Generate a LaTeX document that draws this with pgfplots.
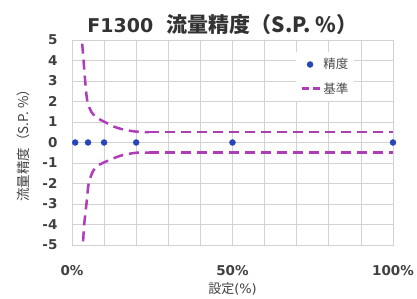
\documentclass[border=0pt]{standalone}
\usepackage{pgfplots}
\pgfplotsset{compat=1.18}
\usepackage{fontspec}
\setmainfont{DejaVu Sans}
\newfontfamily\cjk{Noto Sans CJK JP}
\definecolor{mkblue}{RGB}{40,70,185}
\definecolor{dpurple}{RGB}{175,60,185}
\definecolor{gridc}{RGB}{210,210,210}
\begin{document}
\begin{tikzpicture}[x=1pt,y=1pt]
\path[use as bounding box] (-72,-54) rectangle (345,245);
\begin{axis}[
  at={(0,0)}, anchor=south west,
  scale only axis, width=321pt, height=205pt,
  xmin=0, xmax=100, ymin=-5, ymax=5,
  xtick={0,10,...,100},
  xticklabels={0\%,,,,,50\%,,,,,100\%},
  ytick={-5,-4,...,5},
  grid=major,
  major grid style={gridc, line width=0.8pt},
  axis line style={gridc, line width=0.8pt},
  major tick length=0pt,
  /pgf/number format/assume math mode=true,
  ticklabel style={font=\fontsize{13.5}{14}\selectfont\bfseries, text=black!75},
  xticklabel style={yshift=-17pt},
  yticklabel style={xshift=-11pt},
  xlabel={{\cjk 設定}(\%)},
  xlabel style={font=\fontsize{13}{14}\selectfont, text=black!75, yshift=0pt},
  ylabel={\cjk 流量精度（S.P. \%）},
  ylabel style={font=\fontsize{13.5}{14}\selectfont, text=black!75, yshift=6pt},
  title={\bfseries F1300\hspace{0.7em}{\cjk\bfseries\fontsize{21}{22}\selectfont 流量精度（S.P. \%）}},
  title style={font=\fontsize{19}{21}\selectfont, text=black!80, yshift=-4pt, xshift=-10pt},
  legend style={at={(0.88,0.94)}, anchor=north east, draw=none, fill=white,
    font=\cjk\fontsize{12.5}{13}\selectfont, text=black!70, row sep=8pt,
    inner sep=4pt},
  legend cell align=left,
  clip=true,
]
\addplot[only marks, mark=*, mark size=3pt, color=mkblue] coordinates {
  (1,0) (5,0) (10,0) (20,0) (50,0) (100,0)
};
\addlegendentry{精度}
\addplot[smooth, tension=0.5, color=dpurple, line width=2.5pt, dash pattern=on 10pt off 6pt,
  legend image code/.code={\draw[line width=2.5pt, dash pattern=on 7pt off 4pt] (0cm,0cm) -- (0.65cm,0cm);}] coordinates {
  (2.95,5.6) (3.1,5) (3.6,4) (4.1,3) (4.8,2) (6.2,1.45) (8,1.18) (10,1.02) (13,0.78) (16,0.63) (20,0.53) (24,0.5)
};
\addlegendentry{基準}
\addplot[color=dpurple, line width=2.5pt, dash pattern=on 10pt off 6pt, forget plot] coordinates {
  (24,0.5) (50,0.5) (100,0.5)
};
\addplot[smooth, tension=0.5, color=dpurple, line width=2.5pt, dash pattern=on 10pt off 6pt, forget plot] coordinates {
  (3.25,-5.6) (3.4,-5) (3.8,-4) (4.5,-3) (5.2,-2) (6.6,-1.38) (8.2,-1.12) (10,-0.97) (15,-0.65) (20,-0.5) (24,-0.5)
};
\addplot[color=dpurple, line width=2.5pt, dash pattern=on 10pt off 6pt, forget plot] coordinates {
  (24,-0.5) (50,-0.5) (100,-0.5)
};
\end{axis}
\end{tikzpicture}
\end{document}
